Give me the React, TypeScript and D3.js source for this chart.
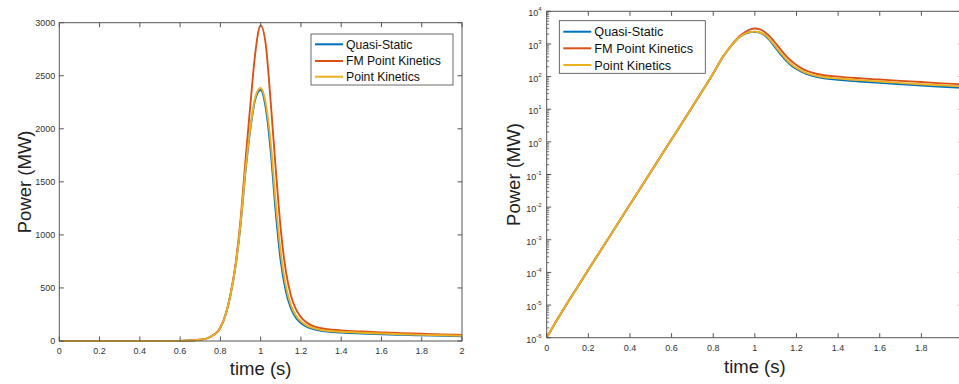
import React from 'react';
import * as d3 from 'd3';

// time samples (s) and power (MW)
const times = [0, 0.05, 0.1, 0.2, 0.3, 0.4, 0.5, 0.6, 0.7, 0.75, 0.8, 0.85, 0.875, 0.9, 0.925, 0.95, 0.975, 1.0,
    1.025, 1.05, 1.075, 1.1, 1.125, 1.15, 1.175, 1.2, 1.225, 1.25, 1.3, 1.4, 1.5, 1.6, 1.7, 1.8, 1.9, 2.0];

const quasiStatic = [1e-6, 3.55e-6, 1.17e-5, 1.2e-4, 1.2e-3, 1.2e-2, 0.12, 1.2, 12, 38, 125, 430, 700, 1090, 1600, 2010, 2290, 2365,
    2200, 1790, 1210, 750, 470, 310, 220, 170, 138, 118, 96, 80, 71, 64, 58, 53, 49, 45];

const fmPointKinetics = [1e-6, 3.55e-6, 1.17e-5, 1.2e-4, 1.2e-3, 1.2e-2, 0.12, 1.2, 12, 38, 127, 440, 720, 1140, 1710, 2250, 2740, 2975,
    2800, 2250, 1620, 1050, 660, 430, 300, 225, 178, 150, 120, 100, 89, 81, 74, 68, 62, 58];

const pointKinetics = [1e-6, 3.55e-6, 1.17e-5, 1.2e-4, 1.2e-3, 1.2e-2, 0.12, 1.2, 12, 38, 126, 432, 705, 1100, 1615, 2025, 2310, 2385,
    2245, 1870, 1300, 830, 520, 340, 240, 185, 150, 128, 104, 87, 78, 71, 64, 58, 54, 50];

const seriesNames = ['Quasi-Static', 'FM Point Kinetics', 'Point Kinetics'];
const seriesColors = ['#0072BD', '#D95319', '#EDB120'];
const seriesValues = [quasiStatic, fmPointKinetics, pointKinetics];

const xTicks = [0, 0.2, 0.4, 0.6, 0.8, 1, 1.2, 1.4, 1.6, 1.8, 2];
const linearYTicks = [0, 500, 1000, 1500, 2000, 2500, 3000];
const logExponents = [-6, -5, -4, -3, -2, -1, 0, 1, 2, 3, 4];

const FONT = '"Liberation Sans", Arial, Helvetica, sans-serif';
const AXIS = '#555';
const TEXT = '#333';
const PAGE_W = 959;

interface PanelProps {
    id: string;
    log: boolean;
    left: number;
    right: number;
    top: number;
    bottom: number;
    legend: { x: number; y: number; w: number; h: number; rowY: number[]; font: number };
    yLabelX: number;
    xLabelY: number;
}

function Panel({ id, log, left, right, top, bottom, legend, yLabelX, xLabelY }: PanelProps) {
    const x = d3.scaleLinear().domain([0, 2]).range([left, right]);
    const y = log
        ? d3.scaleLog().domain([1e-6, 1e4]).range([bottom, top])
        : d3.scaleLinear().domain([0, 3000]).range([bottom, top]);

    const line = d3.line<number>()
        .x((_, i) => x(times[i]))
        .y(d => y(d))
        .curve(d3.curveMonotoneX);

    const majorLen = 4.5;
    const minorLen = 2.5;

    const yMajors = log ? logExponents.map(e => Math.pow(10, e)) : linearYTicks;
    const yMinors: number[] = [];
    if (log) {
        logExponents.slice(0, -1).forEach(e => {
            for (let m = 2; m <= 9; m++) yMinors.push(m * Math.pow(10, e));
        });
    }

    const xFmt = (v: number) => String(Math.round(v * 10) / 10);

    return (
        <g fontFamily={FONT}>
            <defs>
                <clipPath id={`clip-${id}`}>
                    <rect x={left} y={top - 2} width={right - left} height={bottom - top + 4} />
                </clipPath>
            </defs>

            {/* series */}
            <g clipPath={`url(#clip-${id})`}>
                {seriesValues.map((vals, i) => (
                    <path key={i} d={line(vals) ?? ''} fill="none" stroke={seriesColors[i]}
                        strokeWidth={1.9} strokeLinejoin="round" />
                ))}
            </g>

            {/* box */}
            <rect x={left} y={top} width={right - left} height={bottom - top} fill="none" stroke={AXIS} strokeWidth={1} />

            {/* x ticks */}
            {xTicks.map(t => (
                <g key={`xt${t}`}>
                    <line x1={x(t)} x2={x(t)} y1={bottom} y2={bottom - majorLen} stroke={AXIS} />
                    <line x1={x(t)} x2={x(t)} y1={top} y2={top + majorLen} stroke={AXIS} />
                    {x(t) < PAGE_W - 4 && (
                        <text x={x(t)} y={bottom + 13} textAnchor="middle" fontSize={9} fill={TEXT}>{xFmt(t)}</text>
                    )}
                </g>
            ))}

            {/* y ticks */}
            {yMajors.map((v, i) => (
                <g key={`yt${i}`}>
                    <line x1={left} x2={left + majorLen} y1={y(v)} y2={y(v)} stroke={AXIS} />
                    <line x1={right} x2={right - majorLen} y1={y(v)} y2={y(v)} stroke={AXIS} />
                    {log ? (
                        <text x={left - 5} y={y(v) + 5} textAnchor="end" fontSize={9} fill={TEXT}>
                            10<tspan fontSize={6} dy={-5}>{logExponents[i]}</tspan>
                        </text>
                    ) : (
                        <text x={left - 4} y={y(v) + 3} textAnchor="end" fontSize={9} fill={TEXT}>{v}</text>
                    )}
                </g>
            ))}
            {yMinors.map((v, i) => (
                <g key={`ym${i}`}>
                    <line x1={left} x2={left + minorLen} y1={y(v)} y2={y(v)} stroke={AXIS} strokeWidth={0.8} />
                    <line x1={right} x2={right - minorLen} y1={y(v)} y2={y(v)} stroke={AXIS} strokeWidth={0.8} />
                </g>
            ))}

            {/* axis labels */}
            <text x={(left + right) / 2} y={xLabelY} textAnchor="middle" fontSize={18.5} fill="#222">time (s)</text>
            <text transform={`translate(${yLabelX},${(top + bottom) / 2}) rotate(-90)`} textAnchor="middle"
                fontSize={18.5} fill="#222">Power (MW)</text>

            {/* legend */}
            <rect x={legend.x} y={legend.y} width={legend.w} height={legend.h} fill="#fff" stroke="#444" strokeWidth={0.8} />
            {seriesNames.map((name, i) => (
                <g key={name}>
                    <line x1={legend.x + 4} x2={legend.x + 32} y1={legend.rowY[i]} y2={legend.rowY[i]}
                        stroke={seriesColors[i]} strokeWidth={2} />
                    <text x={legend.x + 35} y={legend.rowY[i] + legend.font * 0.36} fontSize={legend.font} fill="#111">{name}</text>
                </g>
            ))}
        </g>
    );
}

export default function App() {
    return (
        <svg width={PAGE_W} height={384} style={{ position: 'absolute', left: 0, top: 0, background: '#fff' }}>
            <rect width={PAGE_W} height={384} fill="#fff" />
            <Panel id="lin" log={false} left={59.3} right={462} top={22.7} bottom={341}
                legend={{ x: 311, y: 34, w: 142, h: 51, rowY: [44.3, 61, 76.7], font: 12.2 }}
                yLabelX={31} xLabelY={375} />
            <Panel id="log" log={true} left={546.7} right={963} top={11.3} bottom={337.7}
                legend={{ x: 559.3, y: 20.7, w: 146, h: 52.6, rowY: [31.7, 48.3, 65], font: 12.7 }}
                yLabelX={520} xLabelY={373} />
        </svg>
    );
}
